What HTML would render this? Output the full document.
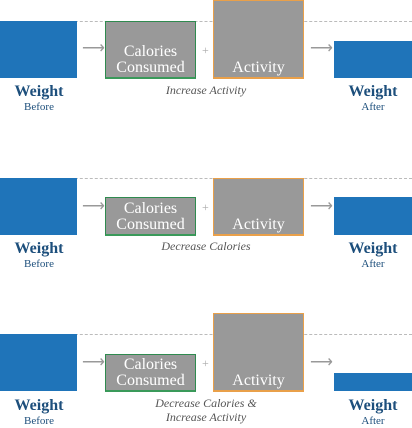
<!DOCTYPE html><html><head><style>
body{margin:0;width:412px;height:427px;background:#fff;position:relative;overflow:hidden;font-family:"Liberation Serif",serif}
.dash{position:absolute;left:0;width:412px;border-top:1px dashed #bbb;height:0}
.blue{position:absolute;background:#1f74b9}
.box{position:absolute;background:#999;box-sizing:border-box;color:#fff;font-size:16px;text-align:center;line-height:16px;display:flex;flex-direction:column;justify-content:flex-end;padding-bottom:1px}
.g{border:1px solid #2f8a4f;border-bottom:2px solid #3a9a5a}
.o{border:1px solid #e9a04a;border-bottom:2px solid #e9a04a}
.arr{position:absolute;color:#999;font-size:16px;line-height:16px}
.plus{position:absolute;color:#aaa;font-size:12px}
.w{position:absolute;color:#1d4f7c;font-weight:bold;font-size:16px;text-align:center;width:78px;line-height:16px}
.w span{display:block;font-size:11px;font-weight:normal;line-height:14px}
.cap{position:absolute;left:130px;width:152px;text-align:center;color:#555;font-style:italic;font-size:12px;line-height:14px}
</style></head><body>
<div class="dash" style="top:21px"></div>
<div class="blue" style="left:0;top:21px;width:77px;height:57px"></div>
<div class="arr" style="left:82px;top:41px">⟶</div>
<div class="box g" style="left:105px;top:21px;width:91px;height:58px">Calories<br>Consumed</div>
<div class="plus" style="left:202px;top:43px">+</div>
<div class="box o" style="left:213px;top:0;width:91px;height:79px">Activity</div>
<div class="arr" style="left:310px;top:41px">⟶</div>
<div class="blue" style="left:334px;top:41px;width:78px;height:37px"></div>
<div class="w" style="left:0;top:84px">Weight<span>Before</span></div>
<div class="w" style="left:334px;top:84px">Weight<span>After</span></div>
<div class="cap" style="top:83px">Increase Activity</div>

<div class="dash" style="top:178px"></div>
<div class="blue" style="left:0;top:178px;width:77px;height:57px"></div>
<div class="arr" style="left:82px;top:199px">⟶</div>
<div class="box g" style="left:105px;top:197px;width:91px;height:39px">Calories<br>Consumed</div>
<div class="plus" style="left:202px;top:200px">+</div>
<div class="box o" style="left:213px;top:178px;width:91px;height:58px">Activity</div>
<div class="arr" style="left:310px;top:199px">⟶</div>
<div class="blue" style="left:334px;top:197px;width:78px;height:38px"></div>
<div class="w" style="left:0;top:241px">Weight<span>Before</span></div>
<div class="w" style="left:334px;top:241px">Weight<span>After</span></div>
<div class="cap" style="top:239px">Decrease Calories</div>

<div class="dash" style="top:334px"></div>
<div class="blue" style="left:0;top:334px;width:77px;height:57px"></div>
<div class="arr" style="left:82px;top:355px">⟶</div>
<div class="box g" style="left:105px;top:354px;width:91px;height:38px">Calories<br>Consumed</div>
<div class="plus" style="left:202px;top:356px">+</div>
<div class="box o" style="left:213px;top:313px;width:91px;height:79px">Activity</div>
<div class="arr" style="left:310px;top:355px">⟶</div>
<div class="blue" style="left:334px;top:373px;width:78px;height:18px"></div>
<div class="w" style="left:0;top:398px">Weight<span>Before</span></div>
<div class="w" style="left:334px;top:398px">Weight<span>After</span></div>
<div class="cap" style="top:396px">Decrease Calories &amp;<br>Increase Activity</div>
</body></html>
